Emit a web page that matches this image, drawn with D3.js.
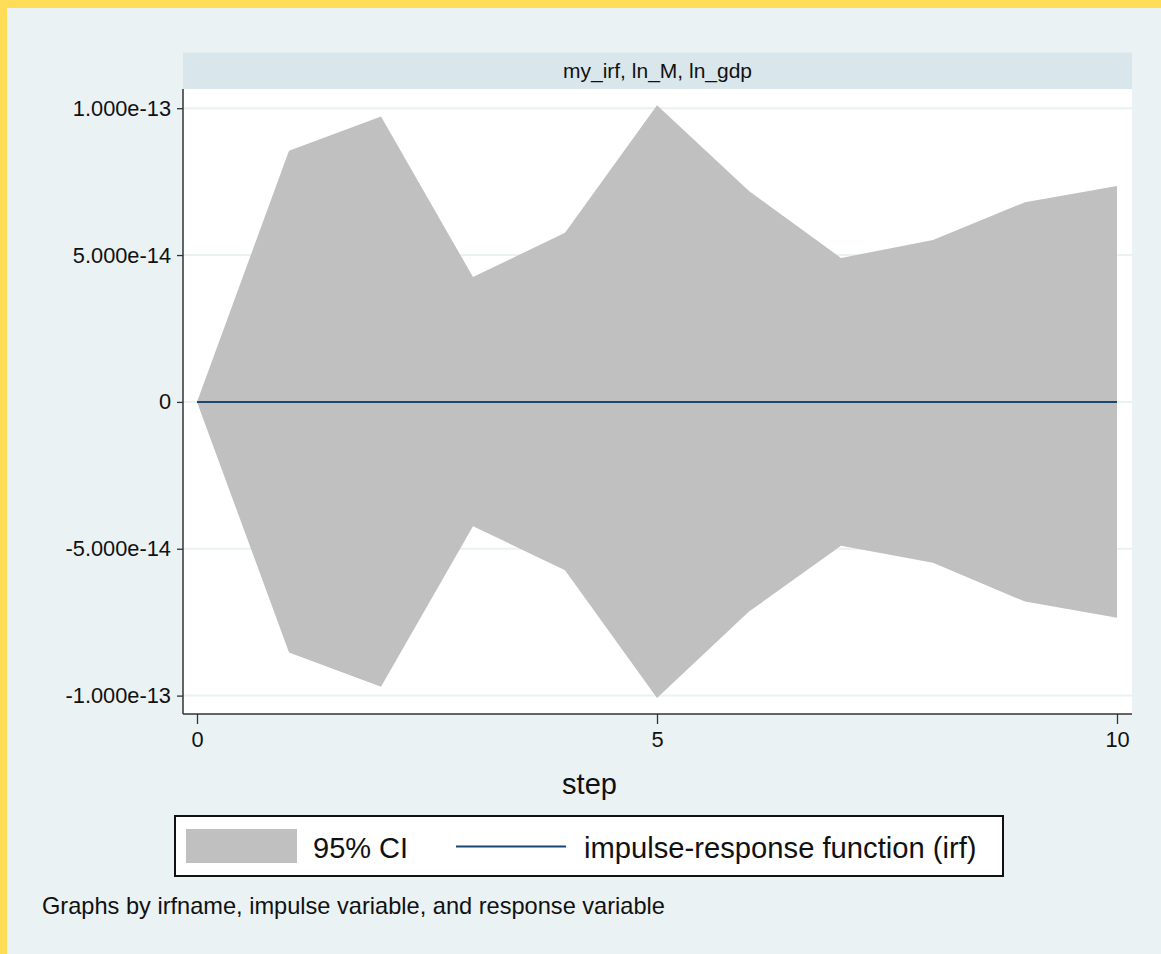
<!DOCTYPE html>
<html>
<head>
<meta charset="utf-8">
<script src="https://cdn.jsdelivr.net/npm/d3@7"></script>
<style>
  html, body { margin: 0; padding: 0; background: #eaf2f3; }
  svg { display: block; font-family: "Liberation Sans", Arial, sans-serif; }
</style>
</head>
<body>
<script>
// ---- data ----
const steps = [0, 1, 2, 3, 4, 5, 6, 7, 8, 9, 10];
const irf   = [0, 0, 0, 0, 0, 0, 0, 0, 0, 0, 0];
const ciUpper = [0, 0.855e-13, 0.972e-13, 0.425e-13, 0.576e-13, 1.010e-13, 0.718e-13, 0.490e-13, 0.551e-13, 0.680e-13, 0.735e-13];
const ciLower = [0, -0.853e-13, -0.970e-13, -0.423e-13, -0.573e-13, -1.008e-13, -0.714e-13, -0.490e-13, -0.548e-13, -0.680e-13, -0.735e-13];
const yTicks = [-1e-13, -5e-14, 0, 5e-14, 1e-13];
const yTickLabels = ["-1.000e-13", "-5.000e-14", "0", "5.000e-14", "1.000e-13"];
const xTicks = [0, 5, 10];
const panelTitle = "my_irf, ln_M, ln_gdp";
const xTitle = "step";
const legendLabels = ["95% CI", "impulse-response function (irf)"];
const note = "Graphs by irfname, impulse variable, and response variable";

const W = 1161, H = 954;
const svg = d3.select("body").append("svg").attr("width", W).attr("height", H);

// background + yellow frame
svg.append("rect").attr("width", W).attr("height", H).attr("fill", "#ffdd57");
svg.append("rect").attr("x", 7).attr("y", 8).attr("width", W - 7).attr("height", H - 8).attr("fill", "#eaf2f3");

const plot = { left: 183, right: 1132, top: 89, bottom: 714 };

const x = d3.scaleLinear().domain([0, 10]).range([197, 1117]);
const y = d3.scaleLinear().domain([-1e-13, 1e-13]).range([695.6, 108.2]);

// panel header
svg.append("rect").attr("x", plot.left).attr("y", 52.5)
  .attr("width", plot.right - plot.left).attr("height", plot.top - 52.5)
  .attr("fill", "#d9e6eb");
svg.append("text").attr("x", (plot.left + plot.right) / 2).attr("y", 71)
  .attr("dy", "0.35em").attr("text-anchor", "middle")
  .attr("font-size", 21).attr("fill", "#111").text(panelTitle);

// plot area
svg.append("rect").attr("x", plot.left).attr("y", plot.top)
  .attr("width", plot.right - plot.left).attr("height", plot.bottom - plot.top)
  .attr("fill", "#ffffff");

// gridlines
svg.append("g").selectAll("line").data(yTicks).join("line")
  .attr("x1", plot.left).attr("x2", plot.right)
  .attr("y1", d => y(d)).attr("y2", d => y(d))
  .attr("stroke", "#eaf2f3").attr("stroke-width", 2);

// CI area
const area = d3.area()
  .x((d, i) => x(steps[i]))
  .y0((d, i) => y(ciLower[i]))
  .y1((d, i) => y(ciUpper[i]));
svg.append("path").datum(steps).attr("d", area).attr("fill", "#c0c0c0");

// irf line
const line = d3.line().x((d, i) => x(steps[i])).y((d, i) => y(irf[i]));
svg.append("path").datum(steps).attr("d", line)
  .attr("fill", "none").attr("stroke", "#1a476f").attr("stroke-width", 2);

// y axis
const yAxis = d3.axisLeft(y).tickValues(yTicks).tickSize(6).tickPadding(6)
  .tickFormat((d, i) => yTickLabels[i]);
const gy = svg.append("g").attr("transform", `translate(${plot.left},0)`).call(yAxis);
gy.select(".domain").attr("d", `M0,${plot.top}V${plot.bottom}`).attr("stroke", "#333").attr("stroke-width", 1.5);
gy.selectAll(".tick line").attr("stroke", "#333").attr("stroke-width", 1.3);
gy.selectAll(".tick text").attr("font-size", 21.8).attr("fill", "#111")
  .attr("font-family", "Liberation Sans, Arial, sans-serif");

// x axis
const xAxis = d3.axisBottom(x).tickValues(xTicks).tickSize(10).tickPadding(8).tickFormat(d3.format("d"));
const gx = svg.append("g").attr("transform", `translate(0,${plot.bottom})`).call(xAxis);
gx.select(".domain").attr("d", `M${plot.left},0H${plot.right}`).attr("stroke", "#333").attr("stroke-width", 1.5);
gx.selectAll(".tick line").attr("stroke", "#333").attr("stroke-width", 1.3);
gx.selectAll(".tick text").attr("font-size", 21.8).attr("fill", "#111")
  .attr("font-family", "Liberation Sans, Arial, sans-serif");

// x title
svg.append("text").attr("x", (plot.left + plot.right) / 2 - 68).attr("y", 794)
  .attr("text-anchor", "middle").attr("font-size", 29).attr("fill", "#111").text(xTitle);

// legend
const lg = svg.append("g");
lg.append("rect").attr("x", 175).attr("y", 816).attr("width", 828).attr("height", 60)
  .attr("fill", "#ffffff").attr("stroke", "#111").attr("stroke-width", 2);
lg.append("rect").attr("x", 186).attr("y", 829).attr("width", 111).attr("height", 34).attr("fill", "#c0c0c0");
lg.append("text").attr("x", 313).attr("y", 858).attr("font-size", 29).attr("fill", "#111").text(legendLabels[0]);
lg.append("line").attr("x1", 456).attr("x2", 566).attr("y1", 846.5).attr("y2", 846.5)
  .attr("stroke", "#1a476f").attr("stroke-width", 2);
lg.append("text").attr("x", 584).attr("y", 858).attr("font-size", 29.2).attr("fill", "#111").text(legendLabels[1]);

// note
svg.append("text").attr("x", 42).attr("y", 914).attr("font-size", 23.6).attr("fill", "#111").text(note);
</script>
</body>
</html>
